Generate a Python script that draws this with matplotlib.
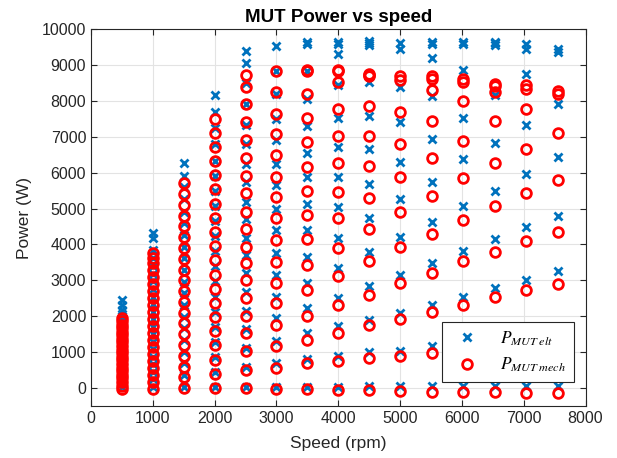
import matplotlib.pyplot as plt

# measured speed of each test column (rpm)
speeds = [500, 1000, 1500, 2000, 2500, 3000, 3500, 4000, 4500, 5000, 5510, 6010, 6530, 7030, 7550]

# electrical / mechanical power read per speed column (W)
elec_500 = [20, 140, 260, 380, 500, 620, 740, 860, 980, 1100, 1220, 1340, 1460, 1580, 1700, 1820, 1940, 2060, 2180, 2320, 2450]
mech_500 = [-30, 70, 170, 270, 370, 470, 570, 670, 770, 870, 970, 1070, 1170, 1270, 1370, 1470, 1570, 1670, 1770, 1870, 1950]
elec_1000 = [30, 240, 450, 660, 870, 1080, 1290, 1500, 1710, 1920, 2130, 2340, 2550, 2760, 2970, 3180, 3400, 3620, 3850, 4170, 4310]
mech_1000 = [-30, 170, 360, 560, 750, 950, 1140, 1340, 1530, 1730, 1920, 2120, 2310, 2510, 2700, 2900, 3090, 3290, 3480, 3620, 3760]
elec_1500 = [40, 360, 690, 1010, 1340, 1660, 1990, 2310, 2640, 2960, 3290, 3610, 3940, 4260, 4590, 4910, 5260, 5590, 5910, 6260]
mech_1500 = [5, 300, 600, 900, 1200, 1500, 1800, 2100, 2400, 2700, 3000, 3300, 3600, 3900, 4200, 4500, 4800, 5100, 5400, 5700]
elec_2000 = [40, 450, 870, 1290, 1710, 2130, 2550, 2970, 3390, 3810, 4230, 4650, 5070, 5490, 5910, 6330, 6800, 7250, 7700, 8150]
mech_2000 = [-10, 400, 790, 1190, 1580, 1980, 2370, 2770, 3160, 3560, 3950, 4350, 4740, 5140, 5530, 5920, 6320, 6710, 7110, 7500]
elec_2500 = [40, 580, 1110, 1650, 2150, 2680, 3200, 3700, 4180, 4700, 5190, 5740, 6250, 6800, 7330, 7900, 8500, 9050, 9375]
mech_2500 = [5, 510, 1020, 1530, 2010, 2500, 3010, 3480, 3940, 4420, 4910, 5420, 5910, 6420, 6900, 7410, 7920, 8390, 8710]
elec_3000 = [20, 700, 1300, 1950, 2550, 3150, 3770, 4400, 5000, 5650, 6250, 6900, 7500, 8200, 8830, 9540]
mech_3000 = [-20, 560, 1160, 1760, 2370, 2920, 3520, 4110, 4730, 5330, 5880, 6490, 7070, 7620, 8250, 8830]
elec_3500 = [20, 800, 1530, 2230, 2920, 3660, 4400, 5130, 5880, 6550, 7290, 8060, 8830, 9590, 9640]
mech_3500 = [-20, 700, 1350, 2010, 2740, 3430, 4150, 4820, 5500, 6160, 6860, 7510, 8200, 8830, 8860]
elec_4000 = [30, 880, 1720, 2510, 3340, 4170, 5050, 5880, 6720, 7530, 8430, 9290, 9590, 9640]
mech_4000 = [-50, 745, 1530, 2320, 3110, 3910, 4730, 5470, 6270, 7010, 7780, 8520, 8830, 8850]
elec_4500 = [50, 1000, 1900, 2830, 3800, 4730, 5670, 6650, 7570, 8520, 9560, 9610, 9660]
mech_4500 = [-60, 840, 1760, 2600, 3550, 4430, 5300, 6180, 7010, 7850, 8680, 8720, 8760]
elec_5000 = [50, 1020, 2090, 3150, 4220, 5260, 6300, 7410, 8390, 9450, 9600]
mech_5000 = [-70, 900, 1920, 2920, 3940, 4910, 5880, 6810, 7690, 8570, 8700]
elec_5500 = [50, 1180, 2320, 3480, 4630, 5750, 6950, 8130, 9200, 9580, 9640]
mech_5500 = [-100, 980, 2110, 3200, 4290, 5360, 6400, 7440, 8310, 8620, 8680]
elec_6000 = [50, 1300, 2540, 3820, 5080, 6370, 7530, 8850, 9570, 9630]
mech_6000 = [-110, 1120, 2320, 3550, 4690, 5840, 6880, 8000, 8520, 8600]
elec_6500 = [50, 1400, 2780, 4150, 5500, 6830, 8150, 9550, 9600, 9640]
mech_6500 = [-115, 1270, 2530, 3800, 5070, 6260, 7440, 8250, 8400, 8480]
elec_7000 = [50, 1550, 3010, 4480, 5960, 7340, 8760, 9450, 9590]
mech_7000 = [-130, 1400, 2740, 4090, 5440, 6670, 7760, 8340, 8430]
elec_7500 = [50, 1650, 3250, 4790, 6440, 7920, 9360, 9450]
mech_7500 = [-145, 1450, 2890, 4360, 5790, 7090, 8200, 8280]

p_elec = [elec_500, elec_1000, elec_1500, elec_2000, elec_2500, elec_3000, elec_3500, elec_4000,
          elec_4500, elec_5000, elec_5500, elec_6000, elec_6500, elec_7000, elec_7500]
p_mech = [mech_500, mech_1000, mech_1500, mech_2000, mech_2500, mech_3000, mech_3500, mech_4000,
          mech_4500, mech_5000, mech_5500, mech_6000, mech_6500, mech_7000, mech_7500]

x_ticks = list(range(0, 8001, 1000))
y_ticks = list(range(0, 10001, 1000))


def main() -> None:
    plt.rcParams["font.family"] = "Liberation Sans"
    plt.rcParams["mathtext.fontset"] = "stix"

    fig = plt.figure(figsize=(6.17, 4.58), dpi=100)
    ax = fig.add_axes([0.1475, 0.1135, 0.8015, 0.8232])

    x_elec, y_elec, x_mech, y_mech = [], [], [], []
    for speed, elec, mech in zip(speeds, p_elec, p_mech):
        x_elec += [speed] * len(elec)
        y_elec += elec
        x_mech += [speed] * len(mech)
        y_mech += mech

    ax.plot(x_elec, y_elec, "x", color="#0072BD", markersize=5.5, markeredgewidth=2,
            label=r"$P_{MUT\;elt}$")
    ax.plot(x_mech, y_mech, "o", color="#FF0000", markerfacecolor="none", markersize=7,
            markeredgewidth=2, label=r"$P_{MUT\;mech}$")

    ax.set_xlim(0, 8000)
    ax.set_ylim(-500, 10000)
    ax.set_xticks(x_ticks)
    ax.set_yticks(y_ticks)
    ax.grid(True, color="#e3e3e3", linewidth=0.8)
    ax.set_axisbelow(True)
    ax.tick_params(direction="in", top=True, right=True, length=4, labelsize=11.5,
                   colors="#262626", width=0.8)
    for spine in ax.spines.values():
        spine.set_color("#262626")
        spine.set_linewidth(0.8)

    ax.set_title("MUT Power vs speed", fontsize=13.5, fontweight="bold", pad=5)
    ax.set_xlabel("Speed (rpm)", fontsize=12.5, color="#262626", labelpad=7)
    ax.set_ylabel("Power (W)", fontsize=12.5, color="#262626", labelpad=7)

    leg = ax.legend(loc="lower right", bbox_to_anchor=(0.976, 0.064), fontsize=12.5,
                    fancybox=False, framealpha=1, edgecolor="#262626", borderpad=0.45,
                    handletextpad=0.9, labelspacing=0.45, borderaxespad=0)
    leg.get_frame().set_linewidth(0.8)

    fig.savefig("out.png", dpi=100)


if __name__ == "__main__":
    main()
